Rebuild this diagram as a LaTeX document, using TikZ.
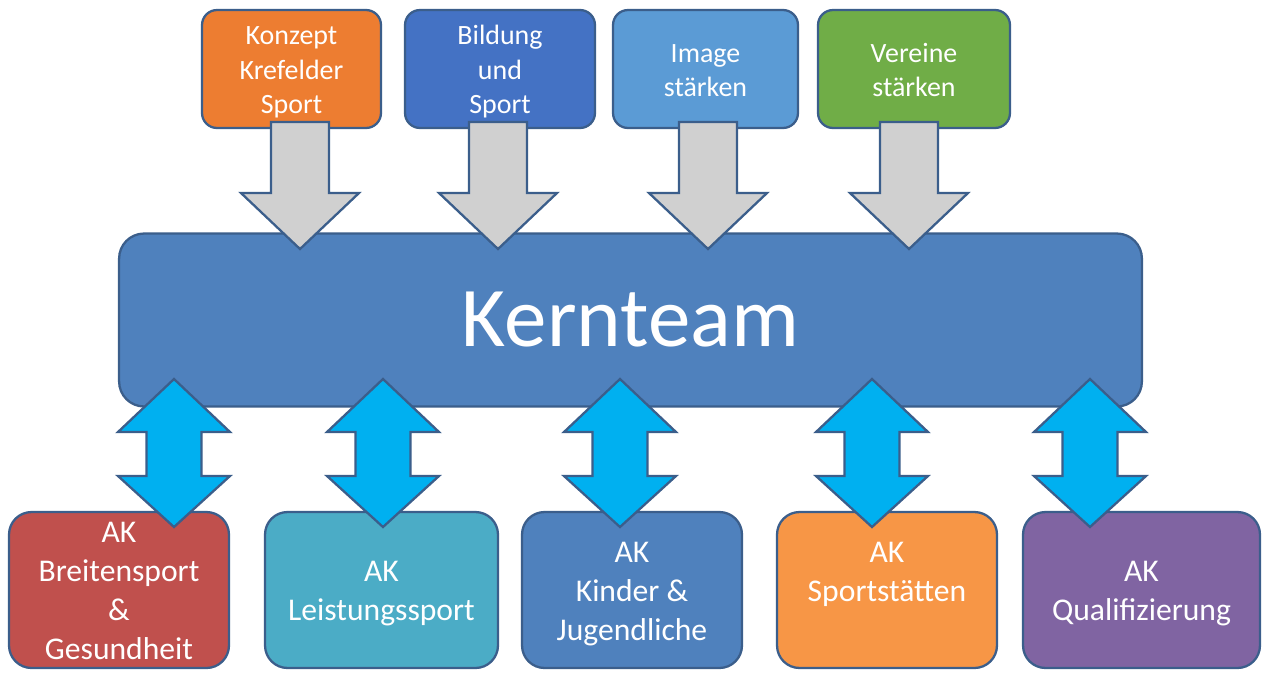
\documentclass[tikz,border=0pt]{standalone}
\usepackage{fontspec}
\setmainfont{Carlito}
\usepackage{xcolor}
\usepackage{tikz}
\definecolor{edge}{HTML}{3B5E8B}
\definecolor{orng}{HTML}{ED7D31}
\definecolor{royal}{HTML}{4472C4}
\definecolor{sky}{HTML}{5B9BD5}
\definecolor{grass}{HTML}{70AD47}
\definecolor{kernblue}{HTML}{4F81BD}
\definecolor{brick}{HTML}{C0504D}
\definecolor{teal}{HTML}{4BACC6}
\definecolor{apricot}{HTML}{F79646}
\definecolor{plum}{HTML}{8064A2}
\definecolor{arrgray}{HTML}{D0D0D0}
\definecolor{arrcyan}{HTML}{00B0F0}
\tikzset{
  box/.style={draw=edge, line width=1.3pt, text=white, align=center, inner sep=0pt},
  topbox/.style={box, rounded corners=0.3cm, minimum height=2.36cm, font=\fontsize{15.9}{19.4}\selectfont},
  akbox/.style={box, rounded corners=0.45cm, minimum height=3.12cm, font=\fontsize{18}{22.2}\selectfont},
  kernbox/.style={box, fill=kernblue, rounded corners=0.5cm, minimum width=20.46cm, minimum height=3.46cm, font=\fontsize{48.4}{58}\selectfont},
  downarr/.style={draw=edge, line width=1.3pt, fill=arrgray},
  bitarr/.style={draw=edge, line width=1.3pt, fill=arrcyan}
}
% fixed line box, so every label sits the same way
\newcommand{\boxtext}[1]{\rule{0pt}{0.94em}#1\rule[-0.22em]{0pt}{0.22em}}
% block arrows, #1 = centre x
\newcommand{\kernarrow}[1]{\draw[downarr] ({#1-29},122) -- ({#1+29},122) -- ({#1+29},193) -- ({#1+59},193) -- (#1,249) -- ({#1-59},193) -- ({#1-29},193) -- cycle;}
\newcommand{\akarrow}[1]{\draw[bitarr] (#1,379) -- ({#1+56},432) -- ({#1+27.5},432) -- ({#1+27.5},476) -- ({#1+56},476) -- (#1,527) -- ({#1-56},476) -- ({#1-27.5},476) -- ({#1-27.5},432) -- ({#1-56},432) -- cycle;}

\begin{document}
\begin{tikzpicture}[x=0.02cm, y=-0.02cm]
\useasboundingbox (0,0) rectangle (1268,681);

% goals
\node[topbox, fill=orng, minimum width=3.58cm] (konzept) at (291.5,69) {\boxtext{Konzept\\Krefelder\\Sport}};
\node[topbox, fill=royal, minimum width=3.8cm] (bildung) at (500,69) {\boxtext{Bildung\\und\\Sport}};
\node[topbox, fill=sky, minimum width=3.7cm] (image) at (705.5,69) {\boxtext{Image\\stärken}};
\node[topbox, fill=grass, minimum width=3.84cm] (vereine) at (914,69) {\boxtext{Vereine\\stärken}};

% core team
\node[kernbox] (kern) at (630.5,320) {Kernteam};

% working groups
\node[akbox, fill=brick, minimum width=4.4cm] (breit) at (119,590) {\boxtext{AK\\Breitensport\\\&\\Gesundheit}};
\node[akbox, fill=teal, minimum width=4.66cm] (leist) at (381.5,590) {\boxtext{AK\\Leistungssport}};
\node[akbox, fill=kernblue, minimum width=4.4cm] (kinder) at (632,590) {\boxtext{AK\\Kinder \&\\Jugendliche}};
\node[akbox, fill=apricot, minimum width=4.4cm] (staette) at (887,590) {\boxtext{AK\\Sportstätten\\}};
\node[akbox, fill=plum, minimum width=4.74cm] (quali) at (1141.5,590) {\boxtext{AK\\Qualifizierung}};

% arrows into the core team
\kernarrow{300}
\kernarrow{498}
\kernarrow{708}
\kernarrow{909}

% arrows to the groups
\akarrow{174}
\akarrow{383}
\akarrow{620}
\akarrow{872}
\akarrow{1090}
\end{tikzpicture}
\end{document}
